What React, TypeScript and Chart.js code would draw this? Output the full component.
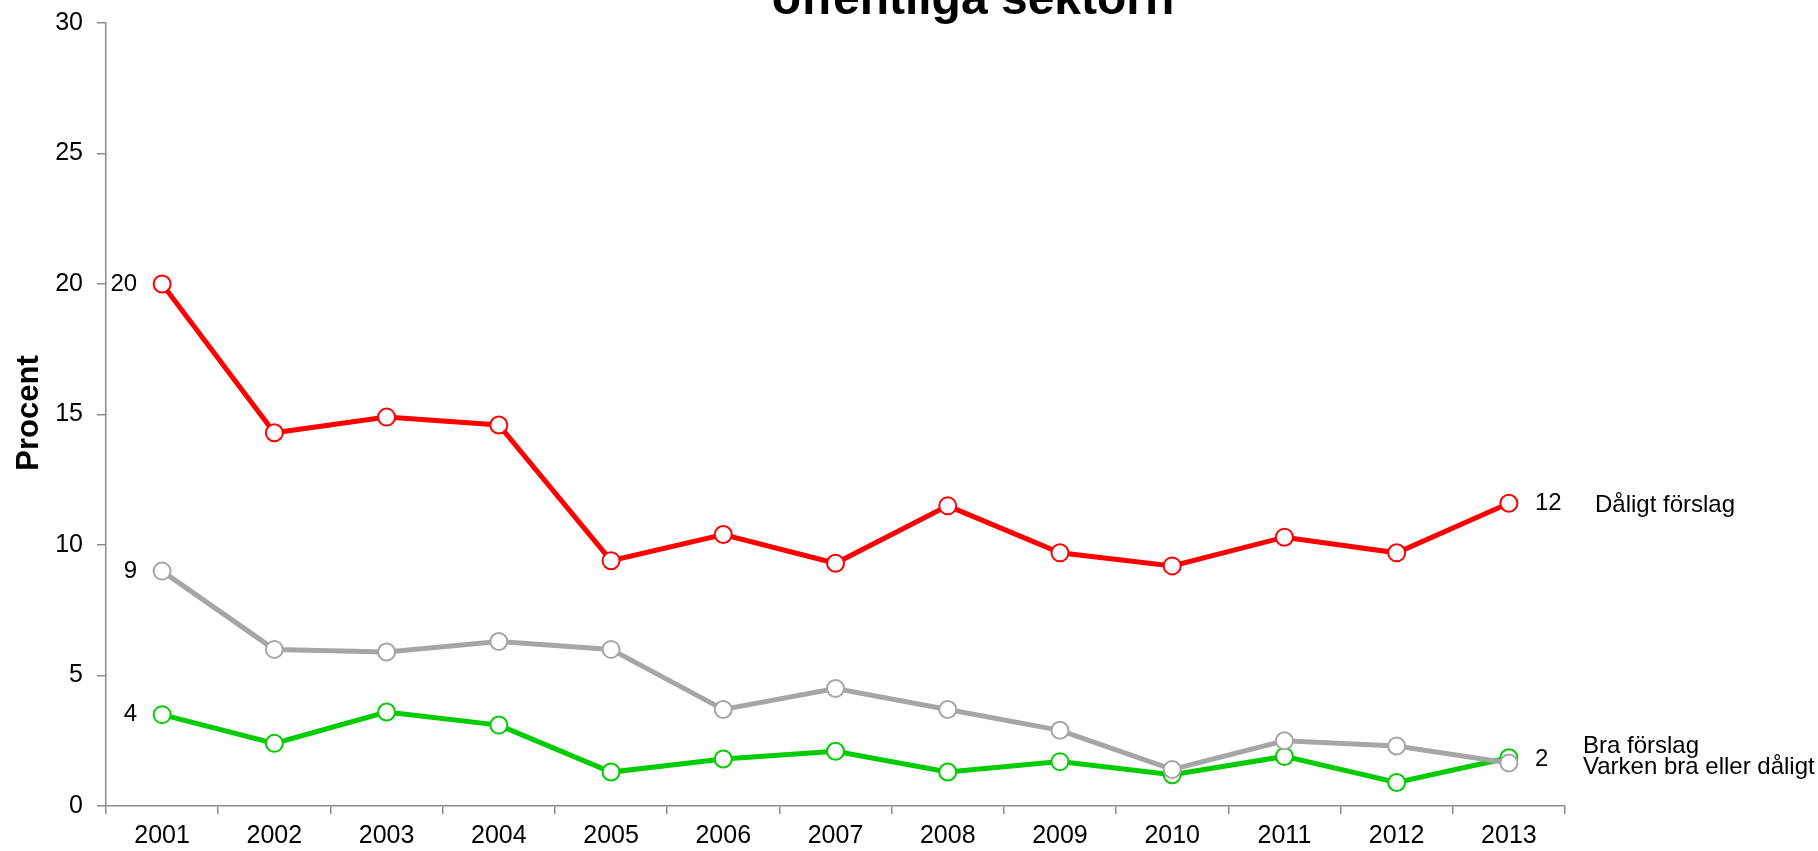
import React, { useEffect, useRef } from "react";
import { Chart, registerables } from "chart.js";

Chart.register(...registerables);

const FONT = "'Liberation Sans', Arial, Helvetica, sans-serif";

const years = ["2001", "2002", "2003", "2004", "2005", "2006", "2007", "2008", "2009", "2010", "2011", "2012", "2013"];
const daligtForslag = [20.0, 14.3, 14.9, 14.6, 9.4, 10.4, 9.3, 11.5, 9.7, 9.2, 10.3, 9.7, 11.6];
const varkenBraEllerDaligt = [9.0, 6.0, 5.9, 6.3, 6.0, 3.7, 4.5, 3.7, 2.9, 1.4, 2.5, 2.3, 1.65];
const braForslag = [3.5, 2.4, 3.6, 3.1, 1.3, 1.8, 2.1, 1.3, 1.7, 1.2, 1.9, 0.9, 1.85];
const seriesNames = ["Dåligt förslag", "Varken bra eller dåligt", "Bra förslag"];
const seriesColors = ["#ff0000", "#a6a6a6", "#00cc00"];
const yMin = 0;
const yMax = 30;
const yStep = 5;
const titleText = "offentliga sektorn";
const yAxisTitle = "Procent";

const annotations = {
  id: "annotations",
  afterDatasetsDraw(chart: any) {
    const ctx = chart.ctx;
    const xs = chart.scales.x;
    const ys = chart.scales.y;
    const area = chart.chartArea;
    const last = years.length - 1;
    ctx.save();
    ctx.fillStyle = "#000";
    ctx.font = `24px ${FONT}`;
    ctx.textBaseline = "middle";

    // first-year value labels
    ctx.textAlign = "right";
    chart.data.datasets.forEach((ds: any) => {
      const v = ds.data[0];
      ctx.fillText(String(Math.round(v)), xs.getPixelForValue(0) - 25, ys.getPixelForValue(v));
    });

    // last-year value labels (Dåligt and Bra)
    ctx.textAlign = "left";
    const lx = xs.getPixelForValue(last) + 26;
    ctx.fillText(String(Math.round(daligtForslag[last])), lx, ys.getPixelForValue(daligtForslag[last]));
    ctx.fillText(String(Math.round(braForslag[last])), lx, ys.getPixelForValue(braForslag[last]) + 2);

    // series names
    ctx.fillText(seriesNames[0], area.right + 30, ys.getPixelForValue(daligtForslag[last]) + 2);
    ctx.fillText(seriesNames[2], area.right + 18, ys.getPixelForValue(braForslag[last]) - 11);
    ctx.fillText(seriesNames[1], area.right + 18, ys.getPixelForValue(braForslag[last]) + 10);

    ctx.restore();
  },
  afterDraw(chart: any) {
    const ctx = chart.ctx;
    ctx.save();
    ctx.fillStyle = "#000";
    ctx.font = `bold 48px ${FONT}`;
    ctx.textAlign = "center";
    ctx.textBaseline = "alphabetic";
    ctx.fillText(titleText, 973, 14);

    ctx.translate(38, 413);
    ctx.rotate(-Math.PI / 2);
    ctx.font = `bold 31px ${FONT}`;
    ctx.fillText(yAxisTitle, 0, 0);
    ctx.restore();
  },
};

export default function App() {
  const ref = useRef<HTMLCanvasElement | null>(null);

  useEffect(() => {
    if (!ref.current) return;
    const mk = (label: string, data: number[], color: string) => ({
      label,
      data,
      borderColor: color,
      backgroundColor: color,
      borderWidth: 5,
      pointRadius: 8.5,
      pointHoverRadius: 8.5,
      pointBorderWidth: 2,
      pointBackgroundColor: "#ffffff",
      pointBorderColor: color,
      tension: 0,
      fill: false,
      clip: false as any,
    });
    const chart = new Chart(ref.current, {
      type: "line",
      data: {
        labels: years,
        datasets: [
          mk(seriesNames[0], daligtForslag, seriesColors[0]),
          mk(seriesNames[1], varkenBraEllerDaligt, seriesColors[1]),
          mk(seriesNames[2], braForslag, seriesColors[2]),
        ],
      },
      options: {
        responsive: false,
        animation: false,
        layout: { padding: { top: 23, right: 253, bottom: 0, left: 0 } },
        plugins: {
          legend: { display: false },
          title: { display: false },
          tooltip: { enabled: false },
        },
        scales: {
          x: {
            offset: true,
            grid: {
              display: true,
              offset: true,
              drawOnChartArea: false,
              drawTicks: true,
              tickLength: 8,
              color: "#8c8c8c",
              lineWidth: 1.5,
            },
            border: { display: true, color: "#8c8c8c", width: 1.5 },
            ticks: {
              color: "#000",
              font: { family: FONT, size: 25 },
              padding: 7,
              maxRotation: 0,
              autoSkip: false,
            },
            afterFit: (scale: any) => {
              scale.height = 45;
              scale.paddingLeft = 0;
              scale.paddingRight = 0;
            },
          },
          y: {
            min: yMin,
            max: yMax,
            grid: {
              display: true,
              drawOnChartArea: false,
              drawTicks: true,
              tickLength: 9,
              color: "#8c8c8c",
              lineWidth: 1.5,
            },
            border: { display: true, color: "#8c8c8c", width: 1.5 },
            ticks: {
              stepSize: yStep,
              color: "#000",
              font: { family: FONT, size: 25 },
              padding: 14,
            },
            afterFit: (scale: any) => {
              scale.width = 106;
              scale.paddingTop = 0;
              scale.paddingBottom = 0;
            },
          },
        },
      },
      plugins: [annotations],
    });
    return () => chart.destroy();
  }, []);

  return (
    <div style={{ position: "absolute", left: 0, top: 0, width: 1818, height: 851, background: "#fff" }}>
      <canvas ref={ref} width={1818} height={851} style={{ display: "block" }} />
    </div>
  );
}
